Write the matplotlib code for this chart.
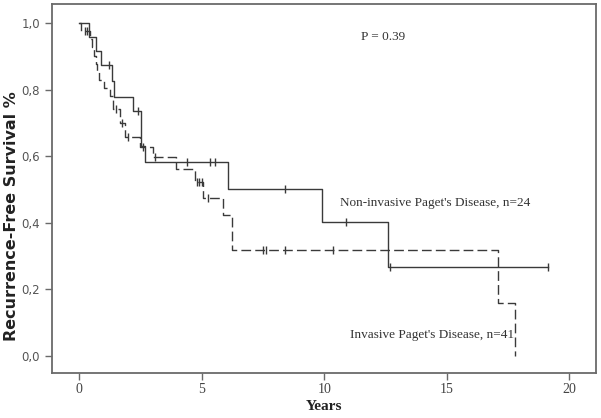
import matplotlib
matplotlib.use("Agg")
import matplotlib.pyplot as plt

# Non-invasive Paget's disease (n=24): step times (years) and survival after each step
noninv_t = [0.0, 0.41, 0.68, 0.90, 1.32, 1.43, 2.20, 2.52, 2.68, 6.08, 9.89, 12.60, 19.14]
noninv_s = [1.0, 0.958, 0.917, 0.874, 0.826, 0.778, 0.736, 0.630, 0.583, 0.500, 0.403, 0.267, 0.267]
noninv_cens_t = [1.22, 2.41, 4.38, 5.35, 5.53, 8.40, 10.90, 12.70, 19.14]
noninv_cens_s = [0.874, 0.736, 0.583, 0.583, 0.583, 0.500, 0.403, 0.267, 0.267]

# Invasive Paget's disease (n=41)
inv_t = [0.0, 0.06, 0.45, 0.52, 0.60, 0.70, 0.74, 0.82, 1.00, 1.25, 1.39, 1.65, 1.85,
         2.50, 3.00, 3.97, 4.72, 5.06, 5.88, 6.22, 17.10, 17.78, 17.78]
inv_s = [1.0, 0.976, 0.951, 0.927, 0.902, 0.878, 0.854, 0.829, 0.805, 0.780, 0.740, 0.700, 0.658,
         0.628, 0.598, 0.560, 0.523, 0.473, 0.423, 0.318, 0.159, 0.0, 0.0]
inv_cens_t = [0.22, 0.32, 1.52, 1.73, 2.00, 2.60, 3.09, 4.80, 4.90, 5.00, 5.27, 7.50, 7.62, 8.40, 10.37]
inv_cens_s = [0.976, 0.976, 0.740, 0.700, 0.658, 0.628, 0.598, 0.523, 0.523, 0.523, 0.473,
              0.318, 0.318, 0.318, 0.318]

x_ticks = [0, 5, 10, 15, 20]
y_ticks = [0.0, 0.2, 0.4, 0.6, 0.8, 1.0]
y_ticklabels = ["0,0", "0,2", "0,4", "0,6", "0,8", "1,0"]

line_col = "#3a3a3a"
frame_col = "#6a6a6a"
serif = ["Liberation Serif", "DejaVu Serif"]

fig = plt.figure(figsize=(6.01, 4.18), dpi=100)
ax = fig.add_axes([0.0865, 0.1077, 0.9052, 0.8827])

ax.step(noninv_t, noninv_s, where="post", color=line_col, lw=1.0)
ax.plot(noninv_cens_t, noninv_cens_s, ls="none", marker="|", ms=6, mew=1.0, color=line_col)

ax.step(inv_t, inv_s, where="post", color=line_col, lw=1.0, ls=(0, (7, 3)))
ax.plot(inv_cens_t, inv_cens_s, ls="none", marker="|", ms=6, mew=1.0, color=line_col)

ax.set_xlim(-1.11, 21.09)
ax.set_ylim(-0.052, 1.057)
ax.set_xticks(x_ticks)
ax.set_xticklabels([str(v) for v in x_ticks], family=serif, fontsize=10, color="#444444")
ax.set_yticks(y_ticks)
ax.set_yticklabels(y_ticklabels, fontsize=8.5, color="#555555")
ax.tick_params(axis="both", direction="out", length=5, width=1.0, color=frame_col)
ax.tick_params(axis="x", pad=2)
for sp in ax.spines.values():
    sp.set_color(frame_col)
    sp.set_linewidth(1.3)

ax.set_ylabel("Recurrence-Free Survival %", fontsize=11.5, fontweight="bold", color="#222222")
ax.yaxis.set_label_coords(-0.06, 0.425)
ax.set_xlabel("Years", family=serif, fontsize=11, fontweight="bold", color="#222222")
ax.xaxis.set_label_coords(0.5, -0.074)

ax.text(11.5, 0.958, "P = 0.39", family=serif, fontsize=9.5, color="#333333", va="center")
ax.text(10.63, 0.46, "Non-invasive Paget's Disease, n=24", family=serif, fontsize=9.5,
        color="#333333", va="center")
ax.text(11.05, 0.062, "Invasive Paget's Disease, n=41", family=serif, fontsize=9.5,
        color="#333333", va="center")

fig.savefig("out.png", dpi=100)
